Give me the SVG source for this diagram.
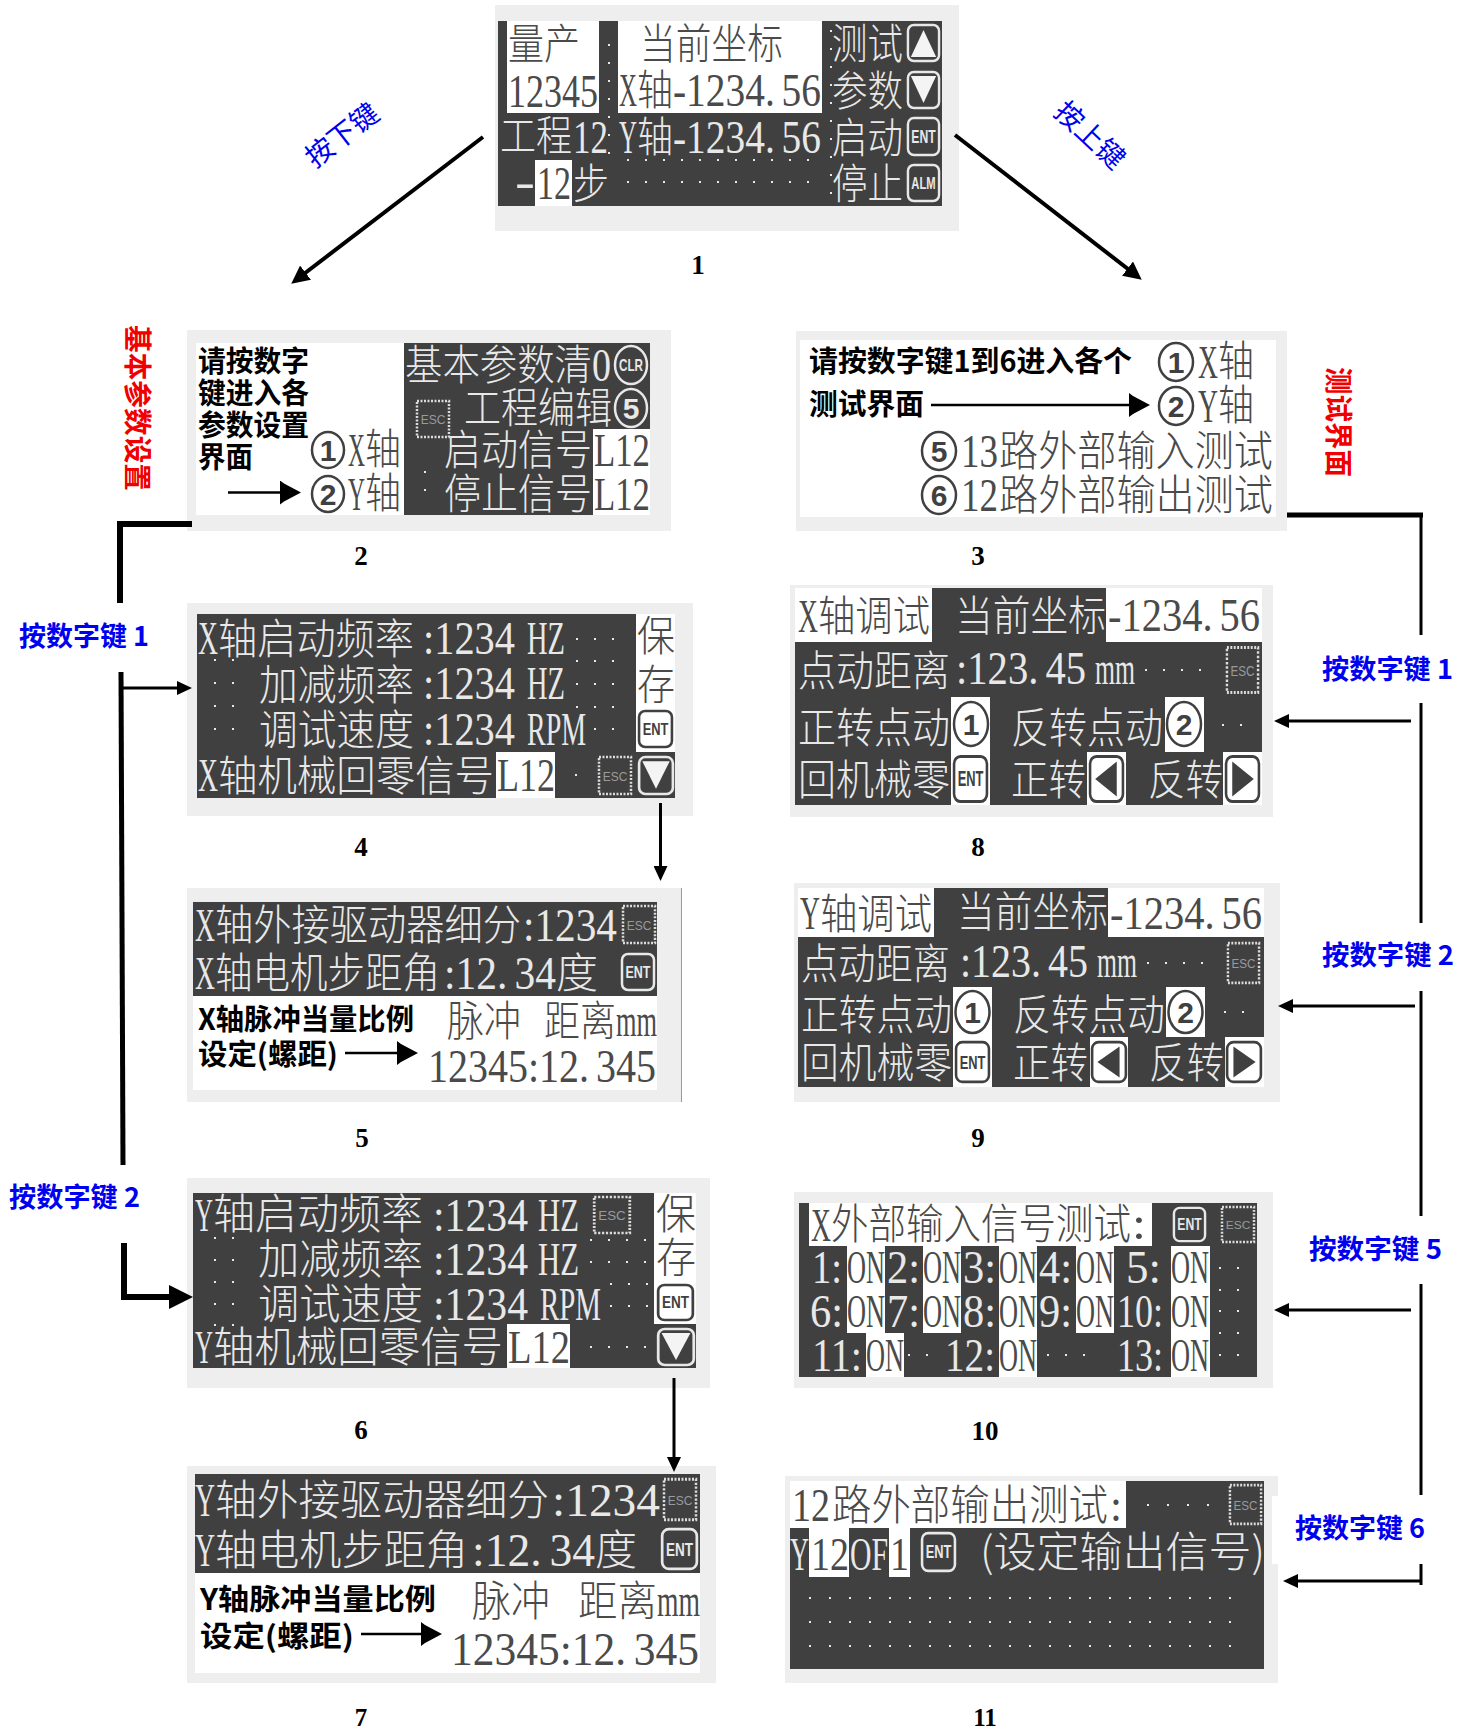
<svg xmlns="http://www.w3.org/2000/svg" width="1470" height="1732" viewBox="0 0 1470 1732">
<style>
text{white-space:pre}
.c{font-family:"Noto Sans CJK SC","Liberation Serif",sans-serif;font-size:42px;font-weight:300}
.n{font-family:"Liberation Serif","Noto Sans CJK SC",serif;font-size:46px}
.w{fill:#e8e8e8}.d{fill:#4a4a4a}
.b{font-family:"Noto Sans CJK SC","Liberation Sans",sans-serif;font-size:29px;font-weight:700;fill:#000}
.cap{font-family:"Liberation Serif",serif;font-size:27px;font-weight:700;fill:#000;text-anchor:middle}
.blue{font-family:"Noto Sans CJK SC","Liberation Serif",serif;font-size:27px;font-weight:700;fill:#0000f0}
.bluer{font-family:"Noto Sans CJK SC",serif;font-size:28px;fill:#0000f0}
.red{font-family:"Noto Sans CJK SC",serif;font-size:28px;font-weight:700;fill:#f00000}
.g{fill:#eeeeee}.k{fill:#404040}.f{fill:#ffffff}
.dots{stroke:#e8e8e8;stroke-width:2;stroke-dasharray:2 16;fill:none}
.ln{stroke:#000;fill:none}
.ci{fill:none;stroke:#404040;stroke-width:2.5}
.cw{fill:none;stroke:#e8e8e8;stroke-width:2.5}
.dg{font-family:"Liberation Sans",sans-serif;font-weight:700;font-size:30px;text-anchor:middle;fill:#404040}
.dgw{font-family:"Liberation Sans",sans-serif;font-weight:700;font-size:30px;text-anchor:middle;fill:#e8e8e8}
.kt{font-family:"Liberation Sans",sans-serif;font-weight:700;font-size:17px;text-anchor:middle}
</style>
<defs>
<marker id="a" markerUnits="userSpaceOnUse" markerWidth="15" markerHeight="14" refX="9" refY="7" orient="auto"><path d="M0,0L15,7L0,14z" fill="#000"/></marker>
<marker id="m" markerUnits="userSpaceOnUse" markerWidth="18" markerHeight="18" refX="12" refY="9" orient="auto"><path d="M0,0L18,9L0,18z" fill="#000"/></marker>
<marker id="h" markerUnits="userSpaceOnUse" markerWidth="24" markerHeight="24" refX="3" refY="12" orient="auto"><path d="M0,0L24,12L0,24z" fill="#000"/></marker>
<marker id="i" markerUnits="userSpaceOnUse" markerWidth="21" markerHeight="24" refX="4" refY="12" orient="auto"><path d="M0,0L4,3L21,12L4,21L0,24z" fill="#000"/></marker>
<symbol id="esc" viewBox="0 0 36 40" preserveAspectRatio="none"><rect x="2" y="2" width="32" height="36" fill="none" stroke="#dcdcdc" stroke-width="2.5" stroke-dasharray="2 1.5"/><text x="18" y="25" text-anchor="middle" font-family="Liberation Sans" font-size="12" fill="#9a9a9a">ESC</text></symbol>
<symbol id="entd" viewBox="0 0 36 40" preserveAspectRatio="none"><rect x="2" y="2" width="32" height="36" rx="6" fill="none" stroke="#e8e8e8" stroke-width="2.5"/><text class="kt" x="18" y="26" fill="#e8e8e8" textLength="25" lengthAdjust="spacingAndGlyphs">ENT</text></symbol>
<symbol id="entl" viewBox="0 0 36 40" preserveAspectRatio="none"><rect x="2" y="2" width="32" height="36" rx="6" fill="#fff" stroke="#404040" stroke-width="2.5"/><text class="kt" x="18" y="26" fill="#404040" textLength="25" lengthAdjust="spacingAndGlyphs">ENT</text></symbol>
<symbol id="alm" viewBox="0 0 36 40" preserveAspectRatio="none"><rect x="2" y="2" width="32" height="36" rx="6" fill="none" stroke="#e8e8e8" stroke-width="2.5"/><text class="kt" x="18" y="26" fill="#e8e8e8" textLength="25" lengthAdjust="spacingAndGlyphs">ALM</text></symbol>
<symbol id="up" viewBox="0 0 36 40" preserveAspectRatio="none"><rect x="2" y="2" width="32" height="36" rx="6" fill="none" stroke="#e8e8e8" stroke-width="2.5"/><path d="M18,7L31,34H5z" fill="#f4f4f4"/></symbol>
<symbol id="dn" viewBox="0 0 36 40" preserveAspectRatio="none"><rect x="2" y="2" width="32" height="36" rx="6" fill="none" stroke="#e8e8e8" stroke-width="2.5"/><path d="M18,33L31,6H5z" fill="#f4f4f4"/></symbol>
<symbol id="lf" viewBox="0 0 36 40" preserveAspectRatio="none"><rect x="2" y="2" width="32" height="36" rx="6" fill="#fff" stroke="#404040" stroke-width="2.5"/><path d="M7,20L28,6V34z" fill="#404040"/></symbol>
<symbol id="rt" viewBox="0 0 36 40" preserveAspectRatio="none"><rect x="2" y="2" width="32" height="36" rx="6" fill="#fff" stroke="#404040" stroke-width="2.5"/><path d="M29,20L8,6V34z" fill="#404040"/></symbol>
</defs>

<g id="node1">
<rect class="g" x="495" y="5" width="464" height="226"/>
<rect class="k" x="498" y="21" width="444" height="185"/>
<rect class="f" x="507" y="21" width="92" height="92"/>
<rect class="f" x="618" y="21" width="204" height="92"/>
<rect class="f" x="535" y="160" width="37" height="46"/>
<text class="c d" x="508" y="59" textLength="72" lengthAdjust="spacingAndGlyphs">量产</text>
<text class="n d" x="508" y="107" textLength="90" lengthAdjust="spacingAndGlyphs">12345</text>
<text class="c d" x="640" y="59" textLength="143" lengthAdjust="spacingAndGlyphs">当前坐标</text>
<text class="n d" x="619" y="106" textLength="18" lengthAdjust="spacingAndGlyphs">X</text>
<text class="c d" x="637" y="105" textLength="36" lengthAdjust="spacingAndGlyphs">轴</text>
<text class="n d" x="673" y="106" textLength="148" lengthAdjust="spacingAndGlyphs">-1234.<tspan dx="8">56</tspan></text>
<text class="c w" x="832" y="59" textLength="71" lengthAdjust="spacingAndGlyphs">测试</text>
<text class="c w" x="832" y="106" textLength="71" lengthAdjust="spacingAndGlyphs">参数</text>
<text class="c w" x="832" y="153" textLength="71" lengthAdjust="spacingAndGlyphs">启动</text>
<text class="c w" x="832" y="199" textLength="71" lengthAdjust="spacingAndGlyphs">停止</text>
<text class="c w" x="500" y="151" textLength="72" lengthAdjust="spacingAndGlyphs">工程</text>
<text class="n w" x="573" y="153" textLength="35" lengthAdjust="spacingAndGlyphs">12</text>
<text class="n w" x="619" y="153" textLength="18" lengthAdjust="spacingAndGlyphs">Y</text>
<text class="c w" x="637" y="152" textLength="36" lengthAdjust="spacingAndGlyphs">轴</text>
<text class="n w" x="673" y="153" textLength="148" lengthAdjust="spacingAndGlyphs">-1234.<tspan dx="8">56</tspan></text>
<text class="n w" x="515" y="197" textLength="20" lengthAdjust="spacingAndGlyphs">-</text>
<text class="n d" x="537" y="199" textLength="34" lengthAdjust="spacingAndGlyphs">12</text>
<text class="c w" x="573" y="199" textLength="36" lengthAdjust="spacingAndGlyphs">步</text>
<use href="#up" x="906" y="23" width="35" height="40"/>
<use href="#dn" x="906" y="70" width="35" height="40"/>
<use href="#entd" x="906" y="116" width="35" height="41"/>
<use href="#alm" x="906" y="163" width="35" height="40"/>
<path class="dots" d="M627,160H815M627,182H815M609,44V160M831,30V205"/>
<text class="cap" x="698" y="274">1</text>
</g>

<g id="node2">
<rect class="g" x="187" y="330" width="484" height="201"/>
<rect class="f" x="196" y="343" width="454" height="172"/>
<rect class="k" x="404" y="343" width="246" height="172"/>
<rect class="f" x="593" y="429" width="57" height="86"/>
<text class="b" x="198" y="372" textLength="111" lengthAdjust="spacingAndGlyphs">请按数字</text>
<text class="b" x="198" y="404" textLength="111" lengthAdjust="spacingAndGlyphs">键进入各</text>
<text class="b" x="198" y="436" textLength="111" lengthAdjust="spacingAndGlyphs">参数设置</text>
<text class="b" x="198" y="468" textLength="55" lengthAdjust="spacingAndGlyphs">界面</text>
<ellipse class="ci" cx="328" cy="450" rx="16" ry="18"/><text class="dg" x="328" y="461" font-size="30">1</text>
<ellipse class="ci" cx="328" cy="494" rx="16" ry="18"/><text class="dg" x="328" y="505">2</text>
<text class="n d" x="348" y="466" textLength="17" lengthAdjust="spacingAndGlyphs">X</text>
<text class="c d" x="365" y="464" textLength="36" lengthAdjust="spacingAndGlyphs">轴</text>
<text class="n d" x="348" y="510" textLength="17" lengthAdjust="spacingAndGlyphs">Y</text>
<text class="c d" x="365" y="508" textLength="36" lengthAdjust="spacingAndGlyphs">轴</text>
<line class="ln" x1="228" y1="492.5" x2="284" y2="492.5" stroke-width="2.5" marker-end="url(#i)"/>
<text class="c w" x="405" y="380" textLength="187" lengthAdjust="spacingAndGlyphs">基本参数清</text>
<text class="n w" x="592" y="381" textLength="19" lengthAdjust="spacingAndGlyphs">0</text>
<text class="c w" x="464" y="423" textLength="148" lengthAdjust="spacingAndGlyphs">工程编辑</text>
<text class="c w" x="444" y="465" textLength="148" lengthAdjust="spacingAndGlyphs">启动信号</text>
<text class="c w" x="444" y="509" textLength="148" lengthAdjust="spacingAndGlyphs">停止信号</text>
<text class="n d" x="594" y="466" textLength="56" lengthAdjust="spacingAndGlyphs">L12</text>
<text class="n d" x="594" y="510" textLength="56" lengthAdjust="spacingAndGlyphs">L12</text>
<ellipse class="cw" cx="631" cy="365" rx="16" ry="19"/><text class="kt" x="631" y="371" fill="#e8e8e8" textLength="24" lengthAdjust="spacingAndGlyphs">CLR</text>
<ellipse class="cw" cx="631" cy="408" rx="16" ry="19"/><text class="dgw" x="631" y="419">5</text>
<use href="#esc" x="415" y="399" width="36" height="40"/>
<path class="dots" d="M424,472H440M424,490H440"/>
<text class="cap" x="361" y="565">2</text>
</g>

<g id="node3">
<rect class="g" x="796" y="331" width="491" height="200"/>
<rect class="f" x="800" y="340" width="476" height="177"/>
<text class="b" x="809" y="372" textLength="323" lengthAdjust="spacingAndGlyphs">请按数字键1到6进入各个</text>
<text class="b" x="809" y="415" textLength="115" lengthAdjust="spacingAndGlyphs">测试界面</text>
<line class="ln" x1="931" y1="405" x2="1133" y2="405" stroke-width="2.5" marker-end="url(#i)"/>
<ellipse class="ci" cx="1176" cy="362" rx="17" ry="19"/><text class="dg" x="1176" y="373">1</text>
<ellipse class="ci" cx="1176" cy="406" rx="17" ry="19"/><text class="dg" x="1176" y="417">2</text>
<text class="n d" x="1198" y="378" textLength="20" lengthAdjust="spacingAndGlyphs">X</text>
<text class="c d" x="1218" y="376" textLength="36" lengthAdjust="spacingAndGlyphs">轴</text>
<text class="n d" x="1198" y="422" textLength="20" lengthAdjust="spacingAndGlyphs">Y</text>
<text class="c d" x="1218" y="420" textLength="36" lengthAdjust="spacingAndGlyphs">轴</text>
<ellipse class="ci" cx="939" cy="451" rx="17" ry="19"/><text class="dg" x="939" y="462">5</text>
<ellipse class="ci" cx="939" cy="495" rx="17" ry="19"/><text class="dg" x="939" y="506">6</text>
<text class="n d" x="961" y="467" textLength="37" lengthAdjust="spacingAndGlyphs">13</text>
<text class="c d" x="999" y="466" textLength="274" lengthAdjust="spacingAndGlyphs">路外部输入测试</text>
<text class="n d" x="961" y="511" textLength="37" lengthAdjust="spacingAndGlyphs">12</text>
<text class="c d" x="999" y="510" textLength="274" lengthAdjust="spacingAndGlyphs">路外部输出测试</text>
<text class="cap" x="978" y="565">3</text>
</g>

<g id="node4">
<rect class="g" x="187" y="603" width="506" height="213"/>
<rect class="f" x="636" y="614" width="39" height="140"/>
<rect class="k" x="197" y="614" width="439" height="184"/>
<rect class="k" x="555" y="752" width="120" height="46"/>
<rect class="f" x="496" y="752" width="59" height="46"/>
<text class="n w" x="198" y="654" textLength="20" lengthAdjust="spacingAndGlyphs">X</text>
<text class="c w" x="218" y="654" textLength="196" lengthAdjust="spacingAndGlyphs">轴启动频率</text>
<text class="n w" x="423" y="654" textLength="92" lengthAdjust="spacingAndGlyphs">:1234</text>
<text class="n w" x="527" y="654" textLength="38" lengthAdjust="spacingAndGlyphs">HZ</text>
<text class="c w" x="259" y="700" textLength="155" lengthAdjust="spacingAndGlyphs">加减频率</text>
<text class="n w" x="423" y="699" textLength="92" lengthAdjust="spacingAndGlyphs">:1234</text>
<text class="n w" x="527" y="699" textLength="38" lengthAdjust="spacingAndGlyphs">HZ</text>
<text class="c w" x="259" y="745" textLength="155" lengthAdjust="spacingAndGlyphs">调试速度</text>
<text class="n w" x="423" y="745" textLength="92" lengthAdjust="spacingAndGlyphs">:1234</text>
<text class="n w" x="527" y="745" textLength="59" lengthAdjust="spacingAndGlyphs">RPM</text>
<text class="n w" x="198" y="791" textLength="20" lengthAdjust="spacingAndGlyphs">X</text>
<text class="c w" x="218" y="791" textLength="276" lengthAdjust="spacingAndGlyphs">轴机械回零信号</text>
<text class="n d" x="497" y="791" textLength="58" lengthAdjust="spacingAndGlyphs">L12</text>
<text class="c d" x="637" y="651" textLength="38" lengthAdjust="spacingAndGlyphs">保</text>
<text class="c d" x="637" y="700" textLength="38" lengthAdjust="spacingAndGlyphs">存</text>
<use href="#entl" x="637" y="709" width="37" height="40"/>
<use href="#esc" x="597" y="755" width="36" height="41"/>
<use href="#dn" x="637" y="755" width="38" height="41"/>
<path class="dots" d="M214,660H250M214,683H250M214,706H250M214,729H250M576,639H630M576,661H630M576,684H630M576,707H630M594,729H630M575,775H590"/>
<text class="cap" x="361" y="856">4</text>
</g>

<g id="node5">
<rect class="g" x="187" y="888" width="494" height="214"/>
<rect x="681" y="888" width="1" height="214" fill="#999"/>
<rect class="k" x="193" y="902" width="464" height="94"/>
<rect class="f" x="193" y="996" width="464" height="94"/>
<text class="n w" x="195" y="941" textLength="20" lengthAdjust="spacingAndGlyphs">X</text>
<text class="c w" x="215" y="940" textLength="306" lengthAdjust="spacingAndGlyphs">轴外接驱动器细分</text>
<text class="n w" x="523" y="941" textLength="94" lengthAdjust="spacingAndGlyphs">:1234</text>
<text class="n w" x="195" y="989" textLength="20" lengthAdjust="spacingAndGlyphs">X</text>
<text class="c w" x="215" y="988" textLength="225" lengthAdjust="spacingAndGlyphs">轴电机步距角</text>
<text class="n w" x="444" y="989" textLength="112" lengthAdjust="spacingAndGlyphs">:12.<tspan dx="8">34</tspan></text>
<text class="c w" x="556" y="988" textLength="42" lengthAdjust="spacingAndGlyphs">度</text>
<use href="#esc" x="621" y="904" width="36" height="41"/>
<use href="#entd" x="620" y="952" width="36" height="40"/>
<text class="b" x="198" y="1030" textLength="216" lengthAdjust="spacingAndGlyphs">X轴脉冲当量比例</text>
<text class="b" x="198" y="1065" textLength="140" lengthAdjust="spacingAndGlyphs">设定(螺距)</text>
<line class="ln" x1="345" y1="1053" x2="401" y2="1053" stroke-width="2.5" marker-end="url(#i)"/>
<text class="c d" x="447" y="1036" textLength="74" lengthAdjust="spacingAndGlyphs">脉冲</text>
<text class="c d" x="544" y="1036" textLength="72" lengthAdjust="spacingAndGlyphs">距离</text>
<text class="n d" x="616" y="1036" textLength="41" lengthAdjust="spacingAndGlyphs" font-size="38">mm</text>
<text class="n d" x="428" y="1082" textLength="228" lengthAdjust="spacingAndGlyphs">12345:12.<tspan dx="8">345</tspan></text>
<text class="cap" x="362" y="1147">5</text>
</g>

<g id="node6">
<rect class="g" x="187" y="1178" width="523" height="210"/>
<rect class="f" x="654" y="1193" width="42" height="131"/>
<rect class="k" x="193" y="1193" width="461" height="175"/>
<rect class="k" x="570" y="1324" width="126" height="44"/>
<rect class="f" x="507" y="1324" width="63" height="44"/>
<text class="n w" x="195" y="1231" textLength="18" lengthAdjust="spacingAndGlyphs">Y</text>
<text class="c w" x="213" y="1229" textLength="210" lengthAdjust="spacingAndGlyphs">轴启动频率</text>
<text class="n w" x="433" y="1231" textLength="95" lengthAdjust="spacingAndGlyphs">:1234</text>
<text class="n w" x="538" y="1231" textLength="41" lengthAdjust="spacingAndGlyphs">HZ</text>
<text class="c w" x="258" y="1274" textLength="165" lengthAdjust="spacingAndGlyphs">加减频率</text>
<text class="n w" x="433" y="1275" textLength="95" lengthAdjust="spacingAndGlyphs">:1234</text>
<text class="n w" x="538" y="1275" textLength="41" lengthAdjust="spacingAndGlyphs">HZ</text>
<text class="c w" x="258" y="1319" textLength="165" lengthAdjust="spacingAndGlyphs">调试速度</text>
<text class="n w" x="433" y="1320" textLength="95" lengthAdjust="spacingAndGlyphs">:1234</text>
<text class="n w" x="540" y="1320" textLength="61" lengthAdjust="spacingAndGlyphs">RPM</text>
<text class="n w" x="195" y="1363" textLength="18" lengthAdjust="spacingAndGlyphs">Y</text>
<text class="c w" x="213" y="1362" textLength="290" lengthAdjust="spacingAndGlyphs">轴机械回零信号</text>
<text class="n d" x="508" y="1363" textLength="62" lengthAdjust="spacingAndGlyphs">L12</text>
<text class="c d" x="656" y="1229" textLength="40" lengthAdjust="spacingAndGlyphs">保</text>
<text class="c d" x="656" y="1273" textLength="40" lengthAdjust="spacingAndGlyphs">存</text>
<use href="#esc" x="592" y="1195" width="40" height="40"/>
<use href="#entl" x="656" y="1283" width="39" height="39"/>
<use href="#dn" x="656" y="1327" width="40" height="40"/>
<path class="dots" d="M214,1238H250M214,1260H250M214,1282H250M214,1304H250M214,1325H250M590,1240H650M590,1262H650M610,1284H650M610,1306H650M590,1347H650"/>
<text class="cap" x="361" y="1439">6</text>
</g>

<g id="node7">
<rect class="g" x="187" y="1466" width="529" height="217"/>
<rect class="k" x="195" y="1474" width="505" height="99"/>
<rect class="f" x="195" y="1573" width="505" height="100"/>
<text class="n w" x="195" y="1516" textLength="20" lengthAdjust="spacingAndGlyphs">Y</text>
<text class="c w" x="215" y="1515" textLength="334" lengthAdjust="spacingAndGlyphs">轴外接驱动器细分</text>
<text class="n w" x="552" y="1516" textLength="108" lengthAdjust="spacingAndGlyphs">:1234</text>
<text class="n w" x="195" y="1566" textLength="20" lengthAdjust="spacingAndGlyphs">Y</text>
<text class="c w" x="215" y="1565" textLength="253" lengthAdjust="spacingAndGlyphs">轴电机步距角</text>
<text class="n w" x="472" y="1566" textLength="123" lengthAdjust="spacingAndGlyphs">:12.<tspan dx="8">34</tspan></text>
<text class="c w" x="595" y="1565" textLength="42" lengthAdjust="spacingAndGlyphs">度</text>
<use href="#esc" x="662" y="1477" width="36" height="45"/>
<use href="#entd" x="660" y="1527" width="39" height="44"/>
<text class="b" x="200" y="1610" textLength="236" lengthAdjust="spacingAndGlyphs">Y轴脉冲当量比例</text>
<text class="b" x="200" y="1647" textLength="154" lengthAdjust="spacingAndGlyphs">设定(螺距)</text>
<line class="ln" x1="361" y1="1634" x2="425" y2="1634" stroke-width="2.5" marker-end="url(#i)"/>
<text class="c d" x="472" y="1616" textLength="78" lengthAdjust="spacingAndGlyphs">脉冲</text>
<text class="c d" x="578" y="1616" textLength="79" lengthAdjust="spacingAndGlyphs">距离</text>
<text class="n d" x="657" y="1616" textLength="43" lengthAdjust="spacingAndGlyphs" font-size="38">mm</text>
<text class="n d" x="451" y="1665" textLength="248" lengthAdjust="spacingAndGlyphs">12345:12.<tspan dx="8">345</tspan></text>
<text class="cap" x="361" y="1726" style="font-size:25px">7</text>
</g>

<g id="node8">
<rect class="g" x="790" y="585" width="483" height="232"/>
<rect class="f" x="795" y="588" width="467" height="54"/>
<rect class="k" x="932" y="588" width="174" height="54"/>
<rect class="k" x="795" y="642" width="467" height="163"/>
<rect class="f" x="951" y="697" width="39" height="108"/>
<rect class="f" x="1165" y="697" width="39" height="55"/>
<rect class="f" x="1087" y="752" width="39" height="53"/>
<rect class="f" x="1223" y="752" width="39" height="53"/>
<text class="n d" x="798" y="632" textLength="20" lengthAdjust="spacingAndGlyphs">X</text>
<text class="c d" x="818" y="631" textLength="112" lengthAdjust="spacingAndGlyphs">轴调试</text>
<text class="c w" x="955" y="631" textLength="151" lengthAdjust="spacingAndGlyphs">当前坐标</text>
<text class="n d" x="1108" y="631" textLength="152" lengthAdjust="spacingAndGlyphs">-1234.<tspan dx="8">56</tspan></text>
<text class="c w" x="798" y="686" textLength="152" lengthAdjust="spacingAndGlyphs">点动距离</text>
<text class="n w" x="956" y="684" textLength="130" lengthAdjust="spacingAndGlyphs">:123.<tspan dx="8">45</tspan></text>
<text class="n w" x="1095" y="684" textLength="40" lengthAdjust="spacingAndGlyphs" font-size="38">mm</text>
<use href="#esc" x="1225" y="645" width="35" height="50"/>
<text class="c w" x="798" y="743" textLength="152" lengthAdjust="spacingAndGlyphs">正转点动</text>
<ellipse class="ci" cx="971" cy="724" rx="17" ry="22"/><text class="dg" x="971" y="735">1</text>
<text class="c w" x="1011" y="743" textLength="152" lengthAdjust="spacingAndGlyphs">反转点动</text>
<ellipse class="ci" cx="1184" cy="724" rx="17" ry="22"/><text class="dg" x="1184" y="735">2</text>
<text class="c w" x="798" y="795" textLength="152" lengthAdjust="spacingAndGlyphs">回机械零</text>
<use href="#entl" x="952" y="754" width="37" height="50"/>
<text class="c w" x="1011" y="795" textLength="75" lengthAdjust="spacingAndGlyphs">正转</text>
<use href="#lf" x="1088" y="754" width="37" height="50"/>
<text class="c w" x="1148" y="795" textLength="75" lengthAdjust="spacingAndGlyphs">反转</text>
<use href="#rt" x="1224" y="754" width="37" height="50"/>
<path class="dots" d="M1145,670H1215M1222,725H1250"/>
<text class="cap" x="978" y="856">8</text>
</g>

<g id="node9">
<rect class="g" x="794" y="883" width="486" height="219"/>
<rect class="f" x="798" y="888" width="466" height="49"/>
<rect class="k" x="934" y="888" width="174" height="49"/>
<rect class="k" x="798" y="937" width="466" height="150"/>
<rect class="f" x="953" y="987" width="39" height="100"/>
<rect class="f" x="1166" y="987" width="39" height="50"/>
<rect class="f" x="1090" y="1037" width="38" height="50"/>
<rect class="f" x="1225" y="1037" width="39" height="50"/>
<text class="n d" x="800" y="929" textLength="20" lengthAdjust="spacingAndGlyphs">Y</text>
<text class="c d" x="820" y="929" textLength="112" lengthAdjust="spacingAndGlyphs">轴调试</text>
<text class="c w" x="957" y="927" textLength="151" lengthAdjust="spacingAndGlyphs">当前坐标</text>
<text class="n d" x="1110" y="929" textLength="152" lengthAdjust="spacingAndGlyphs">-1234.<tspan dx="8">56</tspan></text>
<text class="c w" x="801" y="979" textLength="149" lengthAdjust="spacingAndGlyphs">点动距离</text>
<text class="n w" x="960" y="977" textLength="128" lengthAdjust="spacingAndGlyphs">:123.<tspan dx="8">45</tspan></text>
<text class="n w" x="1097" y="977" textLength="40" lengthAdjust="spacingAndGlyphs" font-size="38">mm</text>
<use href="#esc" x="1226" y="941" width="35" height="44"/>
<text class="c w" x="801" y="1030" textLength="151" lengthAdjust="spacingAndGlyphs">正转点动</text>
<ellipse class="ci" cx="972.500" cy="1012" rx="17" ry="21"/><text class="dg" x="972.500" y="1023">1</text>
<text class="c w" x="1013" y="1030" textLength="152" lengthAdjust="spacingAndGlyphs">反转点动</text>
<ellipse class="ci" cx="1185.500" cy="1012" rx="17" ry="21"/><text class="dg" x="1185.500" y="1023">2</text>
<text class="c w" x="801" y="1078" textLength="151" lengthAdjust="spacingAndGlyphs">回机械零</text>
<use href="#entl" x="954" y="1040" width="37" height="44"/>
<text class="c w" x="1013" y="1078" textLength="75" lengthAdjust="spacingAndGlyphs">正转</text>
<use href="#lf" x="1090" y="1040" width="38" height="44"/>
<text class="c w" x="1149" y="1078" textLength="75" lengthAdjust="spacingAndGlyphs">反转</text>
<use href="#rt" x="1225" y="1040" width="38" height="44"/>
<path class="dots" d="M1147,963H1215M1224,1012H1252"/>
<text class="cap" x="978" y="1147">9</text>
</g>

<g id="node10">
<rect class="g" x="794" y="1192" width="479" height="196"/>
<rect class="k" x="799" y="1203" width="458" height="174"/>
<rect class="f" x="809" y="1203" width="343" height="43"/>
<rect class="f" x="847" y="1246" width="38" height="87"/>
<rect class="f" x="923" y="1246" width="38" height="87"/>
<rect class="f" x="999" y="1246" width="38" height="131"/>
<rect class="f" x="1076" y="1246" width="38" height="87"/>
<rect class="f" x="1171" y="1246" width="39" height="131"/>
<rect class="f" x="866" y="1333" width="38" height="44"/>
<text class="n d" x="811" y="1241" textLength="20" lengthAdjust="spacingAndGlyphs">X</text>
<text class="c d" x="831" y="1239" textLength="300" lengthAdjust="spacingAndGlyphs">外部输入信号测试</text>
<text class="n d" x="1132" y="1239" textLength="14" lengthAdjust="spacingAndGlyphs">:</text>
<use href="#entd" x="1172" y="1206" width="35" height="37"/>
<use href="#esc" x="1220" y="1205" width="36" height="39"/>
<text class="n w" x="812" y="1283" textLength="30" lengthAdjust="spacingAndGlyphs">1:</text>
<text class="n d" x="847" y="1283" textLength="38" lengthAdjust="spacingAndGlyphs">ON</text>
<text class="n w" x="887" y="1283" textLength="33" lengthAdjust="spacingAndGlyphs">2:</text>
<text class="n d" x="923" y="1283" textLength="38" lengthAdjust="spacingAndGlyphs">ON</text>
<text class="n w" x="963" y="1283" textLength="33" lengthAdjust="spacingAndGlyphs">3:</text>
<text class="n d" x="999" y="1283" textLength="38" lengthAdjust="spacingAndGlyphs">ON</text>
<text class="n w" x="1039" y="1283" textLength="33" lengthAdjust="spacingAndGlyphs">4:</text>
<text class="n d" x="1076" y="1283" textLength="38" lengthAdjust="spacingAndGlyphs">ON</text>
<text class="n w" x="1126" y="1283" textLength="35" lengthAdjust="spacingAndGlyphs">5:</text>
<text class="n d" x="1171" y="1283" textLength="38" lengthAdjust="spacingAndGlyphs">ON</text>
<text class="n w" x="810" y="1327" textLength="33" lengthAdjust="spacingAndGlyphs">6:</text>
<text class="n d" x="847" y="1327" textLength="38" lengthAdjust="spacingAndGlyphs">ON</text>
<text class="n w" x="887" y="1327" textLength="33" lengthAdjust="spacingAndGlyphs">7:</text>
<text class="n d" x="923" y="1327" textLength="38" lengthAdjust="spacingAndGlyphs">ON</text>
<text class="n w" x="963" y="1327" textLength="33" lengthAdjust="spacingAndGlyphs">8:</text>
<text class="n d" x="999" y="1327" textLength="38" lengthAdjust="spacingAndGlyphs">ON</text>
<text class="n w" x="1039" y="1327" textLength="33" lengthAdjust="spacingAndGlyphs">9:</text>
<text class="n d" x="1076" y="1327" textLength="38" lengthAdjust="spacingAndGlyphs">ON</text>
<text class="n w" x="1117" y="1327" textLength="46" lengthAdjust="spacingAndGlyphs">10:</text>
<text class="n d" x="1171" y="1327" textLength="38" lengthAdjust="spacingAndGlyphs">ON</text>
<text class="n w" x="812" y="1371" textLength="50" lengthAdjust="spacingAndGlyphs">11:</text>
<text class="n d" x="866" y="1371" textLength="38" lengthAdjust="spacingAndGlyphs">ON</text>
<text class="n w" x="945" y="1371" textLength="50" lengthAdjust="spacingAndGlyphs">12:</text>
<text class="n d" x="999" y="1371" textLength="38" lengthAdjust="spacingAndGlyphs">ON</text>
<text class="n w" x="1117" y="1371" textLength="46" lengthAdjust="spacingAndGlyphs">13:</text>
<text class="n d" x="1171" y="1371" textLength="38" lengthAdjust="spacingAndGlyphs">ON</text>
<path class="dots" d="M1219,1268H1245M1219,1290H1245M1219,1311H1245M1219,1333H1245M1219,1355H1245M1047,1355H1100M908,1355H940"/>
<text class="cap" x="985" y="1440">10</text>
</g>

<g id="node11">
<rect class="g" x="785" y="1476" width="493" height="207"/>
<rect x="1272" y="1496" width="8" height="68" fill="#fff"/>
<rect class="k" x="790" y="1481" width="474" height="188"/>
<rect class="f" x="790" y="1481" width="336" height="47"/>
<rect class="f" x="809" y="1528" width="40" height="49"/>
<rect class="f" x="889" y="1528" width="21" height="49"/>
<text class="n d" x="792" y="1521" textLength="38" lengthAdjust="spacingAndGlyphs">12</text>
<text class="c d" x="832" y="1520" textLength="276" lengthAdjust="spacingAndGlyphs">路外部输出测试</text>
<text class="n d" x="1110" y="1521" textLength="12" lengthAdjust="spacingAndGlyphs">:</text>
<use href="#esc" x="1228" y="1483" width="35" height="43"/>
<text class="n w" x="790" y="1570" textLength="19" lengthAdjust="spacingAndGlyphs">Y</text>
<text class="n d" x="811" y="1570" textLength="38" lengthAdjust="spacingAndGlyphs">12</text>
<text class="n w" x="850" y="1570" textLength="38" lengthAdjust="spacingAndGlyphs">OF</text>
<text class="n d" x="890" y="1570" textLength="19" lengthAdjust="spacingAndGlyphs">1</text>
<use href="#entd" x="920" y="1531" width="37" height="42"/>
<text class="c w" x="980" y="1567" textLength="285" lengthAdjust="spacingAndGlyphs">(设定输出信号)</text>
<path class="dots" style="stroke-dasharray:2 18" d="M809,1598H1246M809,1622H1246M809,1646H1246M1147,1505H1220"/>
<text class="cap" x="985" y="1726" style="font-size:25px">11</text>
</g>

<g id="connectors">
<line class="ln" x1="483" y1="137" x2="296" y2="280" stroke-width="4" marker-end="url(#m)"/>
<line class="ln" x1="955" y1="135" x2="1137" y2="276" stroke-width="4" marker-end="url(#m)"/>
<path class="ln" stroke-width="6" d="M192,524H120V603"/>
<line class="ln" x1="121" y1="672" x2="123" y2="1165" stroke-width="5"/>
<line class="ln" x1="121" y1="688" x2="186" y2="688" stroke-width="3" marker-end="url(#a)"/>
<path class="ln" stroke-width="6" d="M124,1243V1297H172" marker-end="url(#h)"/>
<line class="ln" x1="660.500" y1="803" x2="660.500" y2="875" stroke-width="3" marker-end="url(#a)"/>
<line class="ln" x1="674" y1="1378" x2="674" y2="1466" stroke-width="3" marker-end="url(#a)"/>
<path class="ln" stroke-width="5" d="M1287,515H1423"/>
<path class="ln" stroke-width="3" d="M1421,515V635M1421,703V923M1421,991V1216M1421,1284V1495M1421,1564V1585"/>
<line class="ln" x1="1411" y1="721" x2="1280" y2="721" stroke-width="3" marker-end="url(#a)"/>
<line class="ln" x1="1415" y1="1006" x2="1284" y2="1006" stroke-width="3" marker-end="url(#a)"/>
<line class="ln" x1="1411" y1="1310" x2="1280" y2="1310" stroke-width="3" marker-end="url(#a)"/>
<line class="ln" x1="1421" y1="1581" x2="1289" y2="1581" stroke-width="3" marker-end="url(#a)"/>
</g>

<g id="labels">
<text class="bluer" transform="translate(342,135) rotate(-38)" text-anchor="middle" y="10">按下键</text>
<text class="bluer" transform="translate(1090,135) rotate(43)" text-anchor="middle" y="10">按上键</text>
<text class="red" transform="translate(125,325) rotate(90)" y="-2" textLength="166" lengthAdjust="spacingAndGlyphs">基本参数设置</text>
<text class="red" transform="translate(1326,367) rotate(90)" y="-2" textLength="110" lengthAdjust="spacingAndGlyphs">测试界面</text>
<text class="blue" x="19" y="646" textLength="130" lengthAdjust="spacingAndGlyphs">按数字键 1</text>
<text class="blue" x="9" y="1207" textLength="131" lengthAdjust="spacingAndGlyphs">按数字键 2</text>
<text class="blue" x="1322" y="679" textLength="131" lengthAdjust="spacingAndGlyphs">按数字键 1</text>
<text class="blue" x="1322" y="965" textLength="132" lengthAdjust="spacingAndGlyphs">按数字键 2</text>
<text class="blue" x="1309" y="1259" textLength="133" lengthAdjust="spacingAndGlyphs">按数字键 5</text>
<text class="blue" x="1295" y="1538" textLength="130" lengthAdjust="spacingAndGlyphs">按数字键 6</text>
</g>
</svg>
